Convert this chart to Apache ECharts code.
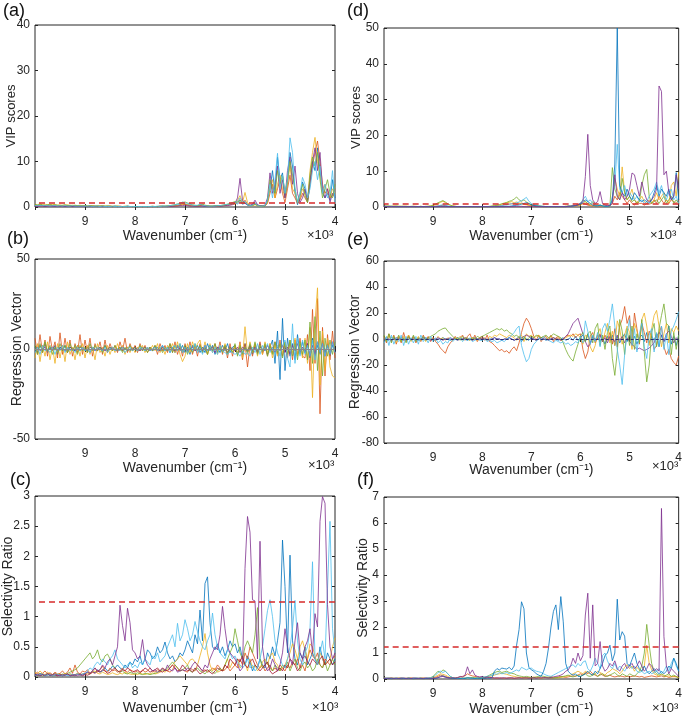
<!DOCTYPE html>
<html><head><meta charset="utf-8">
<script src="https://cdn.jsdelivr.net/npm/echarts@6/dist/echarts.min.js"></script>
<style>html,body{margin:0;padding:0;background:#fff}#c{width:685px;height:718px}</style>
</head><body><div id="c"></div>
<script>
// ---------- DATA ----------
const WN = [
10000,9950,9900,9850,9800,9750,9700,9650,9600,9550,9500,9450,9400,9350,9300,9250,9200,9150,9100,9050,
9000,8950,8900,8850,8800,8750,8700,8650,8600,8550,8500,8450,8400,8350,8300,8250,8200,8150,8100,8050,
8000,7950,7900,7850,7800,7750,7700,7650,7600,7550,7500,7450,7400,7350,7300,7250,7200,7150,7100,7050,
7000,6950,6900,6850,6800,6750,6700,6650,6600,6550,6500,6450,6400,6350,6300,6250,6200,6150,6100,6050,
6000,5950,5900,5850,5800,5750,5700,5650,5600,5550,5500,5450,5400,5350,5300,5250,5200,5150,5100,5050,
5000,4950,4900,4850,4800,4750,4700,4650,4600,4550,4500,4450,4400,4350,4300,4250,4200,4150,4100,4050,4000];
const X_TICK_LABELS = ['9','8','7','6','5','4'];
const VIP_THRESHOLD = 1;
const SR_THRESHOLD = 1.25;

// (a) VIP scores
const VIP_A_BLUE = [
0.3,0.2,0.4,0.3,0.2,0.3,0.4,0.2,0.3,0.2, 0.3,0.2,0.2,0.3,0.2,0.1,0.2,0.2,0.1,0.2,
0.2,0.1,0.2,0.1,0.1,0.2,0.1,0.1,0.1,0.2, 0.1,0.1,0.2,0.1,0.1,0.1,0.1,0.2,0.1,0.1,
0.1,0.1,0.1,0.1,0.1,0.1,0.1,0.1,0.1,0.1, 0.1,0.2,0.1,0.1,0.2,0.2,0.3,0.4,0.5,0.7,
0.6,0.5,0.4,0.3,0.2,0.3,0.4,0.3,0.2,0.2, 0.1,0.2,0.2,0.3,0.2,0.3,0.4,0.5,0.6,0.8,
1.0,0.7,1.2,0.6,0.9,0.4,0.3,0.5,1.0,0.4, 0.2,0.1,0.2,1.5,4,8,3,11,6,7.5,
2,5,12,9,3,0.5,2,5.5,4,1, 5,10,8,13,8,3,2,3,1.5,6, 2];
const VIP_A_ORANGE = [
0.2,0.3,0.2,0.2,0.3,0.2,0.2,0.3,0.2,0.2, 0.2,0.3,0.2,0.2,0.2,0.2,0.3,0.2,0.2,0.2,
0.2,0.2,0.1,0.2,0.2,0.1,0.2,0.2,0.1,0.1, 0.2,0.1,0.1,0.1,0.2,0.1,0.1,0.1,0.1,0.1,
0.1,0.1,0.1,0.1,0.1,0.1,0.1,0.1,0.1,0.1, 0.2,0.1,0.1,0.2,0.1,0.2,0.2,0.3,0.4,0.5,
0.6,0.4,0.3,0.3,0.2,0.2,0.3,0.4,0.3,0.2, 0.2,0.1,0.2,0.2,0.2,0.3,0.3,0.4,0.5,0.6,
0.7,1.2,1.6,0.8,1.5,0.6,0.3,0.4,0.7,0.3, 0.2,0.2,0.2,0.8,3,5,2,4,6,3,
1,4,7,3,2,0.8,1.5,3,2,1, 5,9,12,14.5,10,5,3,4,2,2.5, 4];
const VIP_A_YELLOW = [
0.6,0.5,0.7,0.4,0.6,0.5,0.4,0.6,0.5,0.4, 0.5,0.3,0.4,0.5,0.3,0.4,0.3,0.3,0.4,0.3,
0.3,0.2,0.3,0.2,0.2,0.3,0.2,0.2,0.2,0.2, 0.2,0.2,0.1,0.2,0.1,0.1,0.2,0.1,0.1,0.1,
0.1,0.1,0.1,0.1,0.1,0.1,0.1,0.1,0.1,0.1, 0.1,0.1,0.2,0.1,0.1,0.2,0.3,0.3,0.4,0.6,
0.7,0.5,0.4,0.3,0.3,0.2,0.4,0.5,0.3,0.2, 0.2,0.2,0.1,0.2,0.3,0.3,0.4,0.6,0.7,0.8,
0.6,1.5,2.5,1,3.2,1,0.4,0.3,0.5,0.3, 0.2,0.2,0.3,1,4,6,2,5,7,4,
2,5,9,4,3,1,2,4,3,1.5, 8,12,15.3,10,7,3,5,3,2,4, 3];
const VIP_A_PURPLE = [
0.2,0.1,0.2,0.2,0.1,0.2,0.1,0.2,0.1,0.1, 0.2,0.1,0.1,0.1,0.2,0.1,0.1,0.1,0.1,0.1,
0.1,0.1,0.1,0.1,0.1,0.1,0.1,0.1,0.1,0.1, 0.1,0.1,0.1,0.1,0.1,0.1,0.1,0.1,0.1,0.1,
0.1,0.1,0.1,0.1,0.1,0.1,0.1,0.1,0.1,0.1, 0.1,0.1,0.1,0.1,0.1,0.1,0.2,0.2,0.3,0.3,
0.4,0.3,0.2,0.2,0.2,0.1,0.2,0.2,0.2,0.1, 0.1,0.1,0.1,0.2,0.2,0.2,0.3,0.3,0.4,0.5,
0.8,2,6.3,1.5,0.8,0.5,0.4,0.6,1.5,0.5, 0.3,0.3,0.4,2,7.5,3,5,9,3,6,
2,8,11,5,9,3,1,2,4,1.5, 6,10,13,8,12,4,2,4,1,3, 2];
const VIP_A_GREEN = [
0.5,0.4,0.6,0.5,0.3,0.5,0.6,0.4,0.5,0.4, 0.3,0.4,0.5,0.3,0.4,0.3,0.4,0.3,0.3,0.3,
0.3,0.2,0.3,0.3,0.2,0.2,0.2,0.3,0.2,0.2, 0.2,0.1,0.2,0.2,0.1,0.1,0.1,0.2,0.1,0.1,
0.1,0.1,0.1,0.1,0.1,0.1,0.1,0.2,0.1,0.1, 0.2,0.2,0.2,0.3,0.3,0.4,0.5,0.7,0.8,1.0,
1.1,0.9,0.7,0.5,0.4,0.3,0.5,0.6,0.4,0.3, 0.2,0.2,0.3,0.3,0.3,0.4,0.5,0.6,0.8,1.0,
1.2,1,1.5,0.8,1.2,0.5,0.3,0.3,0.6,0.3, 0.2,0.2,0.3,1.2,6,4,3,8,5,7,
3,6,10,7,4,1,3,5,2.5,1, 7,11,9,12,6,2,4,6,3,2, 5];
const VIP_A_CYAN = [
0.3,0.4,0.3,0.3,0.4,0.3,0.2,0.3,0.3,0.2, 0.3,0.2,0.3,0.2,0.2,0.3,0.2,0.2,0.2,0.2,
0.2,0.2,0.2,0.1,0.2,0.2,0.1,0.2,0.1,0.1, 0.1,0.2,0.1,0.1,0.1,0.1,0.1,0.1,0.1,0.1,
0.1,0.1,0.1,0.1,0.1,0.1,0.1,0.1,0.1,0.2, 0.1,0.2,0.2,0.2,0.3,0.4,0.5,0.6,0.8,1.1,
0.9,0.8,0.6,0.4,0.3,0.4,0.6,0.4,0.3,0.2, 0.2,0.2,0.2,0.3,0.3,0.4,0.5,0.6,0.7,0.9,
1,1.2,2,1,1.2,0.5,0.3,0.4,0.8,0.3, 0.2,0.2,0.3,1.5,5,2,6,11.8,4,7,
3,6,15.2,12,4,1,3,6.5,5,2, 4,8,10,6,9,3,5,2,3,8, 1];

// (d) VIP scores
const VIP_D_BLUE = [
0.2,0.2,0.1,0.2,0.1,0.1,0.1,0.1,0.1,0.1, 0.1,0.1,0.1,0.1,0.1,0.1,0.1,0.1,0.1,0.1,
0.1,0.1,0.1,0.2,0.2,0.2,0.1,0.1,0.1,0.1, 0.1,0.1,0.1,0.1,0.1,0.1,0.1,0.1,0.1,0.1,
0.1,0.1,0.1,0.1,0.1,0.1,0.1,0.1,0.1,0.1, 0.2,0.2,0.3,0.4,0.5,0.6,0.8,1.0,1.2,0.9,
0.6,0.4,0.3,0.2,0.2,0.1,0.1,0.1,0.1,0.1, 0.1,0.1,0.1,0.1,0.1,0.2,0.2,0.3,0.4,0.6,
0.8,1.2,2,1.5,1,0.5,0.3,0.3,0.5,0.3, 0.2,0.2,0.3,2,12,50,6,4,3,5,
3,2,4,3,2,1.5,2,1.5,1,2, 4,6,3,5,4,3,5,2,3,9.6, 2];
const VIP_D_ORANGE = [
0.1,0.1,0.1,0.1,0.1,0.1,0.1,0.1,0.1,0.1, 0.1,0.1,0.1,0.1,0.1,0.1,0.1,0.1,0.1,0.1,
0.1,0.2,0.3,0.4,0.5,0.4,0.2,0.1,0.1,0.1, 0.1,0.1,0.1,0.1,0.1,0.1,0.1,0.1,0.1,0.1,
0.1,0.1,0.1,0.1,0.1,0.2,0.3,0.4,0.5,0.6, 0.7,0.8,0.9,1.0,0.8,0.9,1.1,0.9,0.7,0.5,
0.4,0.3,0.2,0.2,0.1,0.1,0.1,0.1,0.1,0.1, 0.1,0.1,0.1,0.1,0.1,0.2,0.2,0.3,0.3,0.4,
0.6,1,0.8,0.5,0.4,0.3,0.3,0.2,0.3,0.2, 0.2,0.2,0.3,1,3,2,4,3,2,1,
2,1,0.5,1.5,1,1,0.5,1,0.8,1, 2,1,3,2,1,2,1,2,1.5,1, 2];
const VIP_D_YELLOW = [
0.2,0.3,0.2,0.2,0.3,0.2,0.2,0.2,0.2,0.2, 0.2,0.1,0.2,0.2,0.1,0.2,0.1,0.1,0.2,0.3,
0.4,0.6,0.9,1.3,1.6,1.2,0.8,0.5,0.3,0.2, 0.1,0.1,0.1,0.1,0.1,0.1,0.1,0.1,0.1,0.1,
0.1,0.1,0.1,0.1,0.2,0.3,0.4,0.6,0.8,1.0, 1.2,1.3,1.5,1.2,1.4,1.1,0.9,0.7,0.6,0.5,
0.4,0.3,0.3,0.2,0.2,0.1,0.1,0.1,0.1,0.1, 0.1,0.1,0.1,0.1,0.2,0.2,0.2,0.3,0.3,0.4,
0.5,1,1.5,0.8,0.6,0.4,0.3,0.3,0.4,0.3, 0.2,0.2,0.3,2,8,5,3,11.2,4,2,
3,5,2,1,2,3,1.5,1,2,1, 2,4,2,3,4,2,1,6,7,3, 9.8];
const VIP_D_PURPLE = [
0.1,0.1,0.1,0.1,0.1,0.1,0.1,0.1,0.1,0.1, 0.1,0.1,0.1,0.1,0.1,0.1,0.1,0.1,0.1,0.1,
0.1,0.1,0.1,0.1,0.1,0.1,0.1,0.1,0.1,0.1, 0.1,0.1,0.1,0.1,0.1,0.1,0.1,0.1,0.1,0.1,
0.1,0.1,0.1,0.1,0.1,0.1,0.1,0.1,0.1,0.1, 0.1,0.1,0.1,0.1,0.2,0.2,0.2,0.1,0.1,0.1,
0.2,0.2,0.1,0.1,0.1,0.1,0.1,0.1,0.1,0.1, 0.1,0.1,0.1,0.1,0.1,0.2,0.2,0.3,0.4,0.6,
1,1.5,8.5,20.3,6,2,1,1.5,4.3,1, 0.5,0.4,0.5,1,9,3,2,4,2,3,
5,9.5,9,6,3,7,4,2,1.5,2, 3,5,33.8,32.3,9,10,4,2,3,9, 5];
const VIP_D_GREEN = [
0.3,0.2,0.3,0.2,0.2,0.3,0.2,0.2,0.2,0.2, 0.1,0.2,0.2,0.1,0.1,0.2,0.1,0.2,0.2,0.3,
0.5,0.8,1.2,1.5,1.8,1.4,0.9,0.5,0.3,0.2, 0.1,0.1,0.1,0.1,0.1,0.1,0.1,0.1,0.1,0.1,
0.1,0.1,0.1,0.2,0.3,0.4,0.5,0.7,0.9,1.1, 1.3,1.6,1.8,2.2,2.8,2.0,1.6,2.0,1.4,1.0,
0.7,0.5,0.4,0.3,0.2,0.2,0.1,0.1,0.1,0.1, 0.1,0.1,0.1,0.1,0.2,0.2,0.3,0.3,0.4,0.6,
1,2,1.5,1,0.7,1.5,0.5,0.4,0.6,0.3, 0.2,0.2,0.4,11,5,3,2,8,4,2,
3,1.5,2,1,1.5,6,9,10.5,3,1, 1.5,2,1,2,3,1,2,3,1,2, 1];
const VIP_D_CYAN = [
0.1,0.1,0.2,0.1,0.1,0.1,0.1,0.1,0.1,0.1, 0.1,0.1,0.1,0.1,0.1,0.1,0.1,0.1,0.1,0.1,
0.1,0.2,0.3,0.5,0.6,0.5,0.3,0.2,0.1,0.1, 0.1,0.1,0.1,0.1,0.1,0.1,0.1,0.1,0.1,0.1,
0.1,0.1,0.1,0.1,0.1,0.2,0.2,0.3,0.4,0.5, 0.6,0.8,0.9,1.0,1.2,1.4,1.8,2.2,2.7,1.6,
1.0,0.6,0.4,0.3,0.2,0.2,0.1,0.1,0.1,0.1, 0.1,0.1,0.1,0.1,0.1,0.2,0.2,0.3,0.4,0.6,
1,2,3,1.5,2,1,0.5,0.3,0.5,0.3, 0.2,0.2,0.4,3,6,17.5,5,4,6,3,
4,3,2,3,1.5,2,1,1.5,3,4, 5,7,4,6,3,2,4,5,2,3, 1];

// (b) regression vector
const REG_B_BLUE = [
1,-2,2,-1,3,-2,1,-1,2,-3, 1,-1,2,-2,1,0,-1,2,-1,1,
-1,1,-2,1,0,-1,1,-1,2,-1, 0,1,-1,0,1,-1,0,1,-1,0,
1,-1,0,1,-1,0,1,-1,0,1, -1,2,-1,1,-2,1,-2,2,-1,2,
-2,1,-3,2,-1,2,-2,1,-2,3, -1,2,-3,1,-2,2,-1,3,-2,1,
2,-3,1,-2,3,-2,1,-3,2,-1, 3,-2,2,-3,1,5,-8,10,-17,17,
-12,6,-4,3,-6,8,-3,4,-2,3, -5,6,-4,2,-3,5,-2,3,-4,2, 0];
const REG_B_ORANGE = [
6,-3,8,-2,5,-4,7,-1,4,-5, 9,-3,6,-2,5,-4,3,-2,8,-3,
5,-2,6,-4,3,-1,4,-3,5,-2, 3,-1,2,-2,4,-1,6,-2,3,-1,
2,-2,3,-1,2,-2,1,-1,2,-3, 3,-1,2,-2,3,-2,4,-3,2,-4,
3,-2,4,-3,2,-4,3,-2,1,-3, 2,-1,3,-2,4,-3,2,-5,3,-4,
2,-3,4,-6,3,-10,2,-4,3,-2, 4,-3,2,-4,3,-2,4,-3,5,-4,
3,-5,4,-6,5,-3,6,-4,-5,8, -12,22,-8,28,-36,12,-15,8,-6,10, -5];
const REG_B_YELLOW = [
-5,3,-7,2,-4,4,-6,1,-8,3, -5,2,-7,4,-3,1,-6,2,-4,3,
-5,2,-3,1,-6,3,-2,1,-4,2, -3,1,-2,3,-1,2,-3,1,-2,1,
-2,1,-1,2,-2,1,-1,2,-1,3, -2,1,-3,2,-1,3,-2,4,-3,-7,
-4,3,-2,4,-1,3,5,-2,4,-3, 3,-2,1,-3,2,-1,3,-2,1,-2,
2,-3,3,-5,12.4,-3,4,-2,3,-4, 2,-3,4,-2,3,-5,2,-4,3,-2,
4,-3,5,-2,6,-4,3,-5,6,-8, 12,-27,15,34,-20,10,-12,6,-10,-15, -16];
const REG_B_PURPLE = [
0,1,-1,0,1,-1,0,1,0,-1, 1,0,-1,0,1,0,-1,0,1,0,
0,-1,1,0,-1,0,1,0,-1,0, 1,0,0,-1,0,1,0,-1,0,0,
1,0,-1,0,1,0,-1,0,1,0, -1,1,0,-1,1,0,-1,1,0,-1,
1,-1,0,1,-1,0,1,-1,2,-1, 0,1,-2,1,0,-1,1,-2,1,0,
-1,1,-2,1,0,-1,2,-1,1,-2, 1,0,-1,2,-1,1,-2,1,-1,2,
-2,1,-3,2,-1,3,-2,1,-2,3, -4,2,-3,4,-2,3,-4,2,-3,4, -2];
const REG_B_GREEN = [
2,-3,3,-2,4,-1,2,-3,1,-2, 3,-1,2,-2,3,-1,2,-3,2,-1,
1,-2,3,-1,2,-1,1,-2,2,-1, 1,-1,2,-1,1,-2,1,-1,2,-1,
1,-1,2,-1,1,-2,1,-1,2,-1, 1,-2,1,-1,3,-2,2,-1,3,-2,
2,-3,1,-2,3,-1,2,-2,1,-3, 2,-1,3,-2,1,-2,2,-3,1,-2,
3,-4,2,-3,1,-2,3,-2,4,-3, 2,-1,3,-4,2,-3,4,-2,3,-5,
4,-3,5,-4,3,-6,4,-3,5,-6, 15,-8,18,-12,10,-15,6,-4,5,-3, 4];
const REG_B_CYAN = [
-2,1,-3,2,-1,0,-2,1,-3,1, -1,2,-2,1,-1,0,-2,1,-1,1,
-1,0,-2,1,-1,1,0,-1,1,-2, 0,1,-1,0,-1,1,-2,0,1,-1,
0,-1,1,0,-1,1,-1,0,1,-1, 0,2,-1,1,-2,1,2,-1,3,-2,
1,-2,2,-1,3,-2,1,-3,2,-1, 2,-2,1,-3,2,-1,-2,-3,-1,-2,
-3,-2,-4,-1,-3,-2,-4,1,-2,3, -3,2,-1,3,-2,1,-3,2,-4,2,
5,-5,-10,14,-8,6,-4,5,-3,2, -4,5,-6,4,-2,3,-4,2,-3,4, -2];

// (e) regression vector
const REG_E_BLUE = [
1,0,-1,1,0,-1,0,1,0,-1, 0,0,1,0,-1,0,0,1,0,0,
0,-1,0,0,1,0,0,-1,0,0, 1,0,0,0,-1,0,0,1,0,0,
0,0,-1,0,0,1,0,0,-1,0, 0,1,0,-1,0,2,-2,1,0,-1,
1,0,-1,0,1,0,-1,0,0,1, 0,-1,0,1,-1,0,1,-1,2,-1,
1,3,-2,4,-3,2,-1,3,-2,1, -4,2,-1,3,-5,2,-3,1,4,-2,
3,-1,2,-4,1,3,-2,5,-3,2, -1,4,-6,3,-2,1,10,-4,2,-5, 3];
const REG_E_ORANGE = [
2,-3,4,-2,3,-4,2,-3,5,-2, 3,-1,2,-3,1,-2,3,-1,2,-2,
1,-2,-4,-7,-9,-11,-6,-3,-1,2, -1,1,3,-1,2,4,-1,3,-2,1,
2,-1,3,-2,-3,-5,-7,-9,-8,-10, -9,-11,-8,-6,-9,-3,5,12,16,13,
8,2,-1,3,-2,1,2,-1,3,-2, 1,2,-1,0,2,3,2,4,1,3,
4,-8,-15,-10,2,5,-3,1,4,-2, 3,-1,5,-4,8,-6,10,15,25,12,
18,-5,20,8,-4,12,5,-3,6,2, -8,-5,4,10,-6,-12,-8,-15,-18,-20, -13];
const REG_E_YELLOW = [
1,-2,3,-1,2,-3,1,-2,2,-1, 3,-2,1,-1,2,-1,1,-2,1,0,
1,-1,2,0,1,-1,1,0,-1,1, 0,2,-1,1,0,-1,1,0,-1,1,
0,1,-1,2,1,3,2,4,3,2, 1,3,2,1,-1,2,3,-2,4,2,
3,1,2,3,1,2,0,1,2,1, 0,1,-1,0,1,2,3,2,4,3,
1,-4,3,2,-6,-10,-5,4,8,-2, 5,12,-3,6,-5,14,8,-4,3,10,
5,-8,12,6,-3,15,20,10,-5,8, 18,22,10,-6,4,12,-3,8,5,10, 6];
const REG_E_PURPLE = [
0,1,0,-1,0,1,0,0,-1,0, 1,0,0,-1,0,0,1,0,0,-1,
0,0,1,0,-1,0,0,1,0,0, -1,0,0,1,0,0,-1,0,0,0,
1,0,0,-1,0,1,0,0,-1,0, 0,1,0,-1,0,0,1,2,3,2,
1,0,-1,0,1,0,0,-1,0,1, 0,0,-1,0,2,4,8,12,14,16,
10,4,-2,-6,-4,2,-1,0,3,-2, 1,-3,2,0,-2,3,-1,2,-3,1,
-2,-4,-6,-8,-7,-8,-9,-8,-7,-5, -3,2,5,3,-2,4,6,2,-3,1, -1];
const REG_E_GREEN = [
3,-2,4,-3,2,-1,3,-2,1,-3, 2,-1,3,-2,1,-1,2,-1,1,2,
3,4,6,7,8,8.5,6,4,2,0, 1,-1,2,0,1,-1,1,0,2,1,
2,3,4,5,6,7,8,7,8,6, 7,5,4,2,3,1,0,2,-1,1,
2,1,3,2,1,2,3,1,2,4, 3,2,1,-3,-8,-12,-15,-17,-10,-4,
2,5,-2,4,6,-3,8,12,-5,3, -8,5,10,-15,-28,-10,15,6,-12,8,
-5,10,-8,4,-3,15,-10,-33,-20,5, 12,-6,8,18,27,12,10,-12,5,-8, 3];
const REG_E_CYAN = [
-3,2,-5,3,-4,1,-2,3,-5,2, -4,1,-3,2,-4,3,-2,1,-3,2,
-2,1,-3,-1,-4,-2,-3,1,-2,0, -1,1,-2,0,-1,1,-2,-1,0,-1,
-1,0,-2,-1,-2,-1,-3,-2,-1,-2, 0,1,3,5,8,10,-5,-12,-17.5,-15,
-8,-4,-2,1,-1,2,0,-1,-2,-3, -1,-2,-3,-2,-4,-3,-5,-4,-2,-3,
2,-3,14,6,-4,3,-2,5,-6,8, 12,6,15,27,10,-8,-20,-35,-12,5,
15,-5,8,-10,4,12,-6,-15,3,8, -10,5,-5,10,-8,4,-12,6,10,15, 21];

// (c) selectivity ratio
const SR_C_BLUE = [
0.05,0.03,0.06,0.04,0.02,0.05,0.03,0.04,0.06,0.03, 0.05,0.02,0.04,0.03,0.05,0.04,0.03,0.06,0.04,0.05,
0.06,0.08,0.05,0.1,0.07,0.12,0.08,0.1,0.15,0.1, 0.12,0.18,0.15,0.2,0.15,0.12,0.2,0.15,0.25,0.2,
0.3,0.25,0.35,0.2,0.3,0.45,0.4,0.3,0.35,0.5, 0.4,0.45,0.58,0.4,0.3,0.35,0.25,0.3,0.4,0.35,
0.45,0.6,0.5,0.4,0.7,0.55,1.11,0.6,1.55,1.66, 0.9,0.5,0.45,0.55,0.4,0.5,0.35,0.45,0.6,0.5,
0.55,0.4,0.5,0.3,0.2,0.35,0.25,0.1,0.2,0.15, 0.3,0.2,0.15,0.4,0.3,0.5,0.35,0.6,0.9,2.27,
1.5,0.4,2.02,0.6,0.3,0.2,0.4,0.3,0.5,0.2, 0.3,0.4,0.3,0.2,0.5,0.3,0.2,0.4,0.3,0.2, 0.3];
const SR_C_ORANGE = [
0.05,0.08,0.04,0.06,0.1,0.05,0.07,0.04,0.08,0.05, 0.06,0.1,0.05,0.08,0.15,0.06,0.2,0.08,0.05,0.1,
0.08,0.12,0.06,0.1,0.15,0.08,0.12,0.18,0.1,0.08, 0.15,0.1,0.12,0.08,0.1,0.15,0.1,0.08,0.12,0.1,
0.08,0.1,0.06,0.12,0.08,0.1,0.15,0.1,0.08,0.12, 0.1,0.15,0.12,0.1,0.08,0.12,0.2,0.15,0.1,0.12,
0.1,0.08,0.15,0.12,0.1,0.2,0.15,0.1,0.12,0.08, 0.1,0.15,0.12,0.2,0.15,0.1,0.12,0.18,0.1,0.15,
0.2,0.15,0.3,0.2,0.4,0.3,0.5,0.4,0.3,0.2, 0.15,0.2,0.1,0.15,0.2,0.1,0.15,0.1,0.2,0.15,
0.1,0.2,0.15,0.25,0.2,0.3,0.15,0.2,0.1,0.3, 0.45,0.35,0.3,0.4,0.2,0.15,0.3,0.25,0.2,0.3, 0.35];
const SR_C_YELLOW = [
0.08,0.05,0.1,0.06,0.04,0.08,0.05,0.03,0.06,0.04, 0.05,0.03,0.06,0.04,0.05,0.03,0.04,0.06,0.03,0.05,
0.04,0.06,0.05,0.08,0.1,0.06,0.05,0.08,0.06,0.04, 0.05,0.07,0.05,0.04,0.06,0.05,0.08,0.06,0.05,0.04,
0.05,0.04,0.06,0.05,0.04,0.06,0.05,0.07,0.05,0.06, 0.08,0.1,0.08,0.12,0.15,0.2,0.25,0.3,0.35,0.3,
0.25,0.2,0.28,0.3,0.25,0.2,0.35,0.5,0.72,0.4, 0.2,0.1,0.15,0.08,0.1,0.12,0.2,0.3,0.15,0.25,
0.2,0.3,0.15,0.2,0.25,0.1,0.3,0.15,0.2,0.1, 0.15,0.25,0.3,0.2,0.35,0.4,0.25,0.2,0.1,0.15,
0.2,0.3,0.4,0.55,0.45,0.3,0.5,0.6,0.45,0.3, 0.55,0.5,0.35,0.2,0.4,0.3,0.2,0.25,0.3,0.5, 0.65];
const SR_C_PURPLE = [
0.03,0.05,0.02,0.04,0.03,0.06,0.02,0.04,0.05,0.03, 0.02,0.04,0.03,0.05,0.02,0.03,0.04,0.02,0.05,0.03,
0.05,0.08,0.06,0.1,0.15,0.1,0.12,0.2,0.15,0.25, 0.3,0.2,0.35,0.5,1.19,0.85,0.6,1.14,0.9,0.45,
0.4,0.3,0.35,0.62,0.3,0.2,0.15,0.1,0.12,0.08, 0.1,0.15,0.1,0.2,0.12,0.1,0.15,0.08,0.1,0.12,
0.1,0.15,0.12,0.2,0.25,0.2,0.15,0.1,0.2,0.15, 0.3,0.4,0.5,0.45,0.7,1.17,0.8,0.5,0.4,0.35,
0.3,0.2,0.1,0.15,1.8,2.66,2.4,1.28,1.26,0.3, 2.25,0.5,0.2,0.1,0.15,0.3,0.2,0.1,0.2,0.4,
0.8,0.5,0.3,0.2,0.6,0.9,0.4,0.3,0.5,0.6, 0.8,0.4,1.05,0.83,2.58,2.99,2.88,1.2,0.5,0.3, 0.4];
const SR_C_GREEN = [
0.03,0.02,0.04,0.02,0.03,0.05,0.02,0.03,0.02,0.04, 0.03,0.05,0.04,0.06,0.08,0.1,0.12,0.15,0.2,0.25,
0.3,0.35,0.4,0.3,0.35,0.45,0.3,0.25,0.35,0.38, 0.3,0.2,0.15,0.1,0.08,0.1,0.06,0.05,0.08,0.06,
0.05,0.07,0.05,0.04,0.06,0.05,0.04,0.05,0.06,0.08, 0.1,0.12,0.1,0.15,0.2,0.25,0.2,0.15,0.1,0.12,
0.15,0.2,0.1,0.08,0.12,0.15,0.1,0.08,0.05,0.1, 0.12,0.08,0.06,0.1,0.15,0.1,0.2,0.3,0.4,0.5,
0.8,0.6,0.4,0.3,0.5,0.6,0.5,0.4,0.7,1.15, 0.3,0.15,0.2,0.25,0.15,0.1,0.2,0.15,0.1,0.2,
0.15,0.25,0.1,0.2,0.3,0.15,0.1,0.2,0.25,0.15, 0.2,0.1,0.15,0.3,0.2,0.15,0.25,0.1,0.2,0.3, 0.2];
const SR_C_CYAN = [
0.02,0.04,0.03,0.05,0.02,0.03,0.04,0.02,0.03,0.05, 0.03,0.02,0.04,0.03,0.02,0.04,0.03,0.05,0.03,0.04,
0.05,0.1,0.15,0.12,0.2,0.25,0.2,0.3,0.25,0.2, 0.3,0.35,0.45,0.3,0.25,0.2,0.15,0.2,0.25,0.15,
0.2,0.15,0.25,0.2,0.3,0.25,0.2,0.35,0.3,0.4, 0.25,0.3,0.35,0.5,0.6,0.7,0.5,0.89,0.6,0.7,
0.95,0.8,0.6,0.7,0.92,0.75,0.6,0.5,0.45,0.6, 0.7,1.06,0.7,0.5,0.4,0.35,0.3,0.45,0.4,0.3,
0.35,0.25,0.2,0.15,0.2,0.3,0.15,0.2,0.1,0.15, 0.3,0.5,0.8,1.1,1.28,1.0,0.6,0.4,0.3,0.2,
0.15,0.3,0.5,0.8,1.27,0.6,0.3,0.2,0.4,0.5, 0.8,1.91,0.3,0.2,0.4,0.6,0.3,1.46,2.58,0.8, 0.4];
const SR_C_MAROON = [
0.02,0.03,0.02,0.04,0.02,0.03,0.05,0.02,0.03,0.02, 0.04,0.02,0.03,0.05,0.02,0.03,0.02,0.04,0.03,0.02,
0.04,0.03,0.05,0.08,0.06,0.1,0.08,0.12,0.1,0.06, 0.08,0.12,0.15,0.1,0.08,0.12,0.1,0.15,0.12,0.08,
0.1,0.12,0.08,0.1,0.15,0.12,0.08,0.1,0.12,0.15, 0.1,0.08,0.12,0.1,0.15,0.2,0.15,0.1,0.12,0.2,
0.15,0.1,0.12,0.08,0.15,0.1,0.05,0.08,0.1,0.12, 0.08,0.05,0.1,0.15,0.12,0.1,0.2,0.15,0.3,0.25,
0.2,0.3,0.25,0.35,0.2,0.15,0.25,0.3,0.2,0.15, 0.1,0.15,0.2,0.25,0.1,0.05,0.08,0.1,0.15,0.1,
0.2,0.15,0.3,0.25,0.2,0.1,0.15,0.3,0.35,0.25, 0.2,0.3,0.25,0.2,0.3,0.35,0.2,0.25,0.3,0.2, 0.25];

// (f) selectivity ratio
const SR_F_BLUE = [
0.02,0.03,0.02,0.01,0.02,0.03,0.02,0.01,0.02,0.02, 0.03,0.02,0.01,0.02,0.03,0.02,0.01,0.02,0.02,0.01,
0.02,0.02,0.05,0.1,0.12,0.08,0.05,0.03,0.02,0.02, 0.03,0.02,0.03,0.02,0.05,0.04,0.03,0.02,0.03,0.02,
0.03,0.02,0.04,0.03,0.05,0.3,0.4,0.35,0.42,0.4, 0.38,0.45,0.35,0.5,1.3,1.9,2.97,2.7,1.0,0.45,
0.35,0.3,0.2,0.15,0.1,0.3,0.6,1.2,2.0,2.6, 2.85,1.9,3.17,2.2,0.6,0.3,0.2,0.15,0.2,0.1,
0.1,0.15,0.2,0.3,0.2,0.15,0.3,0.2,0.4,0.6, 0.9,1.0,1.3,0.7,1.0,3.07,1.5,1.82,1.65,0.6,
0.5,0.75,1.0,0.6,0.4,0.3,0.5,0.3,0.2,0.3, 0.4,0.3,0.2,0.3,0.2,0.3,0.5,0.4,0.8,0.6, 0.3];
const SR_F_ORANGE = [
0.03,0.02,0.04,0.02,0.03,0.02,0.03,0.04,0.02,0.03, 0.02,0.04,0.03,0.02,0.03,0.02,0.04,0.03,0.02,0.03,
0.04,0.06,0.1,0.15,0.12,0.1,0.06,0.05,0.04,0.05, 0.06,0.08,0.1,0.12,0.2,0.15,0.12,0.1,0.08,0.06,
0.05,0.04,0.05,0.06,0.05,0.04,0.03,0.05,0.04,0.03, 0.04,0.05,0.04,0.03,0.04,0.05,0.06,0.05,0.04,0.05,
0.04,0.05,0.06,0.05,0.04,0.05,0.06,0.05,0.04,0.05, 0.06,0.08,0.1,0.08,0.06,0.08,0.1,0.12,0.1,0.15,
0.2,0.15,0.25,0.2,0.3,0.2,0.15,0.1,0.2,0.15, 0.1,0.12,0.15,0.1,0.08,0.1,0.12,0.1,0.08,0.1,
0.08,0.1,0.12,0.1,0.08,0.1,0.06,0.08,0.1,0.12, 0.1,0.08,0.1,0.12,0.08,0.1,0.06,0.08,0.1,0.08, 0.06];
const SR_F_YELLOW = [
0.04,0.02,0.03,0.05,0.02,0.03,0.04,0.02,0.03,0.02, 0.04,0.03,0.02,0.03,0.02,0.04,0.03,0.02,0.03,0.04,
0.06,0.1,0.15,0.2,0.18,0.15,0.1,0.05,0.03,0.02, 0.03,0.02,0.04,0.03,0.02,0.03,0.04,0.03,0.02,0.03,
0.04,0.05,0.08,0.1,0.12,0.15,0.18,0.2,0.22,0.2, 0.18,0.15,0.12,0.1,0.08,0.06,0.05,0.04,0.05,0.06,
0.05,0.08,0.06,0.05,0.04,0.06,0.05,0.08,0.1,0.06, 0.05,0.04,0.06,0.08,0.1,0.12,0.15,0.2,0.25,0.3,
0.25,0.2,0.3,0.25,0.2,0.15,0.2,0.3,0.25,0.2, 0.15,0.25,0.3,0.4,0.35,0.3,0.2,0.3,0.45,0.55,
0.4,0.5,0.3,0.45,0.35,0.3,0.5,1.3,0.6,0.35, 0.2,0.15,0.1,0.2,0.15,0.1,0.12,0.1,0.08,0.1, 0.05];
const SR_F_PURPLE = [
0.02,0.03,0.02,0.04,0.02,0.03,0.02,0.03,0.04,0.02, 0.03,0.02,0.04,0.03,0.02,0.03,0.02,0.04,0.03,0.02,
0.03,0.04,0.05,0.08,0.1,0.06,0.05,0.04,0.05,0.03, 0.05,0.1,0.08,0.15,0.47,0.2,0.35,0.15,0.1,0.08,
0.1,0.05,0.08,0.06,0.05,0.04,0.05,0.03,0.04,0.05, 0.03,0.04,0.05,0.03,0.04,0.05,0.03,0.04,0.05,0.03,
0.04,0.05,0.03,0.05,0.04,0.06,0.05,0.04,0.06,0.08, 0.1,0.12,0.15,0.2,0.3,0.35,0.5,0.8,0.6,1.0,
0.7,0.9,2.46,3.3,0.8,2.85,0.5,0.6,1.44,0.5, 0.3,0.4,0.6,0.5,0.7,0.4,0.3,0.5,0.6,0.4,
0.5,0.6,0.4,0.5,0.7,0.5,0.3,0.4,0.6,0.5, 0.3,0.4,0.3,6.56,1.63,0.5,0.2,0.4,0.3,0.2, 0.1];
const SR_F_GREEN = [
0.02,0.03,0.02,0.02,0.03,0.02,0.02,0.03,0.02,0.02, 0.03,0.02,0.02,0.03,0.02,0.03,0.02,0.02,0.03,0.05,
0.1,0.2,0.3,0.25,0.35,0.3,0.2,0.1,0.05,0.03, 0.02,0.03,0.02,0.03,0.05,0.04,0.06,0.05,0.04,0.05,
0.06,0.08,0.1,0.15,0.2,0.25,0.28,0.3,0.25,0.28, 0.3,0.25,0.22,0.2,0.15,0.12,0.1,0.08,0.1,0.08,
0.06,0.05,0.08,0.1,0.12,0.1,0.08,0.06,0.05,0.04, 0.05,0.06,0.08,0.1,0.12,0.15,0.1,0.08,0.12,0.15,
0.1,0.15,0.2,0.12,0.1,0.15,0.2,0.1,0.15,0.2, 0.12,0.1,0.15,0.2,0.25,0.15,0.1,0.2,0.15,0.1,
0.2,0.15,0.1,0.2,0.3,0.5,1.0,2.1,1.3,0.6, 0.3,0.2,0.15,0.2,0.1,0.15,0.2,0.1,0.15,0.1, 0.05];
const SR_F_CYAN = [
0.03,0.02,0.04,0.03,0.02,0.03,0.02,0.04,0.03,0.02, 0.03,0.02,0.03,0.04,0.02,0.03,0.02,0.03,0.04,0.05,
0.08,0.15,0.25,0.3,0.25,0.3,0.2,0.1,0.05,0.03, 0.02,0.03,0.02,0.04,0.03,0.02,0.03,0.02,0.04,0.03,
0.05,0.08,0.1,0.12,0.15,0.2,0.18,0.25,0.2,0.22, 0.25,0.2,0.25,0.3,0.35,0.3,0.45,0.4,0.35,0.4,
0.42,0.35,0.3,0.28,0.25,0.2,0.15,0.12,0.1,0.15, 0.2,0.25,0.3,0.35,0.4,0.45,0.5,0.55,0.45,0.6,
0.5,0.65,0.7,0.4,0.3,0.5,0.8,0.6,0.4,0.9, 1.0,0.7,0.5,0.4,0.6,0.35,0.5,0.4,0.3,0.45,
0.55,0.4,0.5,0.3,0.25,0.3,0.2,0.25,0.3,0.2, 0.25,0.3,0.4,0.2,0.3,0.5,0.3,0.6,0.8,0.5, 0.3];

// ---------- STYLE / LAYOUT ----------
const COLORS = {blue:'#0072BD', orange:'#D95319', yellow:'#EDB120', purple:'#7E2F8E', green:'#77AC30', cyan:'#4DBEEE', maroon:'#A2142F'};
const FONT = '"Liberation Sans", Arial, sans-serif';
const AX = '#262626';

const PANELS = [
 {label:'(a)', lx:3, ly:2, left:35, top:25, width:300, height:182, min:0, max:40, interval:10, yName:'VIP scores', yNameSize:13, yGap:17, xGap:22, mx:307, my:229,
  series:[['blue',VIP_A_BLUE],['orange',VIP_A_ORANGE],['yellow',VIP_A_YELLOW],['purple',VIP_A_PURPLE],['green',VIP_A_GREEN],['cyan',VIP_A_CYAN]], thresh:VIP_THRESHOLD},
 {label:'(b)', lx:7, ly:230, left:35, top:259, width:300, height:180, min:-50, max:50, interval:50, yName:'Regression Vector', yNameSize:14, yGap:11, xGap:22, mx:308, my:459,
  series:[['blue',REG_B_BLUE],['orange',REG_B_ORANGE],['yellow',REG_B_YELLOW],['purple',REG_B_PURPLE],['green',REG_B_GREEN],['cyan',REG_B_CYAN]], zero:'solid'},
 {label:'(c)', lx:10, ly:471, left:35, top:496, width:300, height:181, min:0, max:3, interval:0.5, yName:'Selectivity Ratio', yNameSize:14, yGap:20, xGap:24, mx:312, my:701,
  series:[['blue',SR_C_BLUE],['orange',SR_C_ORANGE],['yellow',SR_C_YELLOW],['green',SR_C_GREEN],['maroon',SR_C_MAROON],['cyan',SR_C_CYAN],['purple',SR_C_PURPLE]], thresh:SR_THRESHOLD},
 {label:'(d)', lx:347, ly:2, left:384, top:28, width:296, height:179, min:0, max:50, interval:10, yName:'VIP scores', yNameSize:13, yGap:21, xGap:22, mx:650, my:229,
  series:[['orange',VIP_D_ORANGE],['yellow',VIP_D_YELLOW],['green',VIP_D_GREEN],['cyan',VIP_D_CYAN],['blue',VIP_D_BLUE],['purple',VIP_D_PURPLE]], thresh:VIP_THRESHOLD},
 {label:'(e)', lx:347, ly:231, left:384, top:261, width:296, height:182, min:-80, max:60, interval:20, yName:'Regression Vector', yNameSize:14, yGap:22, xGap:20, mx:652, my:460,
  series:[['blue',REG_E_BLUE],['orange',REG_E_ORANGE],['yellow',REG_E_YELLOW],['purple',REG_E_PURPLE],['green',REG_E_GREEN],['cyan',REG_E_CYAN]], zero:'dashed'},
 {label:'(f)', lx:357, ly:471, left:384, top:497, width:296, height:182, min:0, max:7, interval:1, yName:'Selectivity Ratio', yNameSize:14, yGap:14, xGap:23, mx:652, my:702,
  series:[['orange',SR_F_ORANGE],['yellow',SR_F_YELLOW],['green',SR_F_GREEN],['cyan',SR_F_CYAN],['blue',SR_F_BLUE],['purple',SR_F_PURPLE]], thresh:SR_THRESHOLD}
];

const bad = [];
PANELS.forEach(p => p.series.forEach(([c, v]) => { if (v.length !== WN.length) bad.push(p.label + c + ':' + v.length); }));

const grids = [], xAxes = [], yAxes = [], series = [], titles = [];
PANELS.forEach((p, k) => {
  grids.push({left:p.left, top:p.top, width:p.width, height:p.height, show:true, borderColor:AX, borderWidth:1, backgroundColor:'rgba(0,0,0,0)', containLabel:false});
  const tick = {show:true, inside:true, length:3, lineStyle:{color:AX, width:1}};
  const xb = {gridIndex:k, type:'value', min:4000, max:10000, interval:1000, inverse:true, splitLine:{show:false}, axisLine:{show:false}, axisTick:tick, nameMoveOverlap:false};
  xAxes.push(Object.assign({}, xb, {position:'bottom',
    axisLabel:{show:true, color:AX, fontSize:12, fontFamily:FONT, margin:9, formatter:v => { const i = (10000 - v) / 1000 - 1; return i >= 0 && i < X_TICK_LABELS.length ? X_TICK_LABELS[i] : ''; }},
    name:'Wavenumber (cm\u207B\u00B9)', nameLocation:'middle', nameGap:p.xGap, nameTextStyle:{color:AX, fontSize:14, fontFamily:FONT}}));
  xAxes.push(Object.assign({}, xb, {position:'top', axisLabel:{show:false}}));
  const yb = {gridIndex:k, type:'value', min:p.min, max:p.max, interval:p.interval, splitLine:{show:false}, axisLine:{show:false}, axisTick:tick, nameMoveOverlap:false};
  yAxes.push(Object.assign({}, yb, {position:'left', axisLabel:{show:true, color:AX, fontSize:12, fontFamily:FONT, margin:5},
    name:p.yName, nameLocation:'middle', nameRotate:90, nameGap:p.yGap, nameTextStyle:{color:AX, fontSize:p.yNameSize, fontFamily:FONT}}));
  yAxes.push(Object.assign({}, yb, {position:'right', axisLabel:{show:false}}));
  const n = p.series.length;
  p.series.forEach(([c, vals], j) => {
    const s = {type:'line', xAxisIndex:2*k, yAxisIndex:2*k, data:WN.map((w, i) => [w, vals[i]]), symbol:'none', showSymbol:false,
      lineStyle:{color:COLORS[c], width:0.8}, itemStyle:{color:COLORS[c]}, silent:true, animation:false, clip:true};
    if (j === 0 && p.zero) s.markLine = {silent:true, symbol:['none','none'], label:{show:false}, animation:false,
      lineStyle:{color:p.zero === 'solid' ? '#8a8a8a' : '#2b2b6b', type:p.zero === 'solid' ? 'solid' : [3,2], width:1}, data:[{yAxis:0}]};
    if (j === n - 1 && p.thresh != null) s.markLine = {silent:true, symbol:['none','none'], label:{show:false}, animation:false,
      lineStyle:{color:'#D62A2A', type:[6,4], width:1.5}, data:[{yAxis:p.thresh}]};
    series.push(s);
  });
  titles.push({text:p.label, left:p.lx, top:p.ly, padding:0, textStyle:{color:'#111', fontSize:18, fontWeight:'normal', fontFamily:FONT}});
  titles.push({text:'\u00D710\u00B3', left:p.mx, top:p.my, padding:0, textStyle:{color:AX, fontSize:13, fontWeight:'normal', fontFamily:FONT}});
});
if (bad.length) titles.push({text:'LEN ' + bad.join(' '), left:10, top:300, textStyle:{color:'red', fontSize:12}});

const chart = echarts.init(document.getElementById('c'), null, {renderer:'canvas'});
chart.setOption({animation:false, backgroundColor:'#fff', title:titles, grid:grids, xAxis:xAxes, yAxis:yAxes, series:series});
</script>
</body></html>
